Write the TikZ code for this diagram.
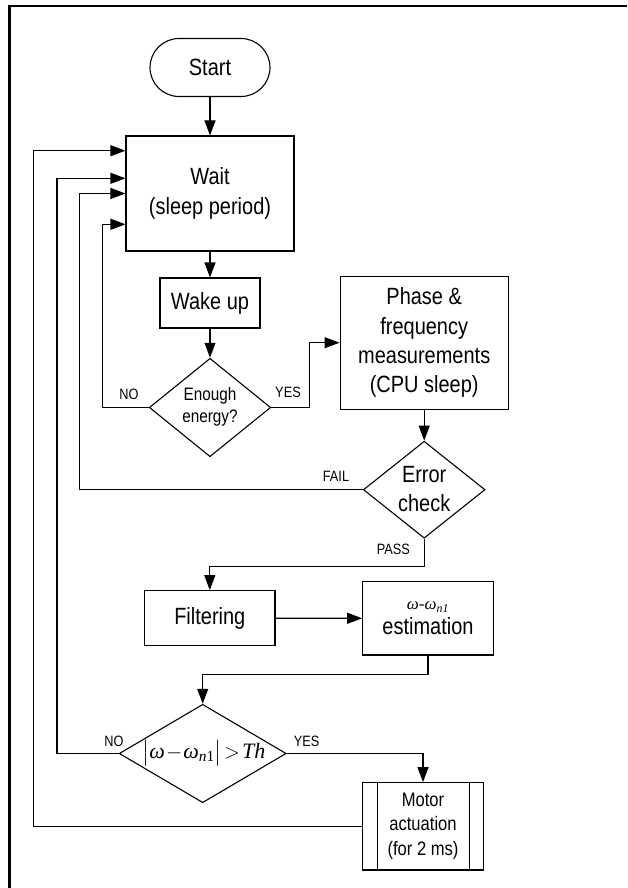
\documentclass[tikz,border=0pt]{standalone}
\usepackage{amsmath}
\usepackage{fontspec}
\setmainfont{Liberation Sans}[FakeStretch=0.85]
\newfontfamily\tms{Liberation Serif}
\usetikzlibrary{arrows.meta,shapes.geometric}
\begin{document}
\begin{tikzpicture}[x=1pt,y=-1pt,
  ln/.style={line width=1.1pt},
  arr/.style={line width=1.1pt,-{Triangle[length=15pt,width=11pt]}},
  box/.style={draw,line width=1.1pt,inner sep=0pt,align=center,font=\fontsize{23.5}{29.3}\selectfont},
  dia/.style={draw,line width=1.1pt,shape=diamond,inner sep=0pt},
  dtext/.style={inner sep=0pt,align=center},
  lbl/.style={inner sep=0pt,font=\fontsize{15}{17}\selectfont}]
\useasboundingbox (0,0) rectangle (627,888);
% frame
\coordinate (fa) at (627,6);
\coordinate (fb) at (9.5,6);
\coordinate (fc) at (9.5,888);
\draw[line width=2.5pt] (fa) -- (fb) -- (fc);
% nodes
\node[box,rounded corners=29pt,minimum width=120pt,minimum height=58pt] (start) at (210,67.5) {Start};
\node[box,minimum width=168pt,minimum height=115pt] (wait) at (210,193.5) {Wait\\(sleep period)};
\node[box,minimum width=100pt,minimum height=50pt] (wake) at (210,303) {Wake up};
\node[dia,minimum width=121.4pt,minimum height=98.4pt] (d1) at (210,407.5) {};
\node[dtext,font=\fontsize{18}{21.7}\selectfont] (d1t) at (210,406.5) {Enough\\energy?};
\node[box,minimum width=168.3pt,minimum height=133.3pt] (phase) at (424.2,342.7) {Phase \&\\frequency\\measurements\\(CPU sleep)};
\node[dia,minimum width=121.7pt,minimum height=97pt] (err) at (424.2,489.7) {};
\node[dtext,font=\fontsize{23.5}{28.4}\selectfont] (errt) at (424.2,489) {Error\\check};
\node[box,minimum width=130.3pt,minimum height=55pt] (filt) at (209.8,618.2) {Filtering};
\node[box,minimum width=130.6pt,minimum height=73.3pt,font=\fontsize{23.5}{25}\selectfont] (est) at (428,618.3)
  {{\fontsize{17}{20}\selectfont\tms\itshape ω-ω\textsubscript{n1}}\\estimation};
\node[dia,minimum width=167pt,minimum height=98.4pt] (d2) at (202.7,753.5) {};
\node[dtext,font=\fontsize{22}{26}\selectfont] (d2t) at (204,753) {$\bigl|\text{\tms\itshape ω}\!-\!\text{\tms\itshape ω}_{\text{\tms\itshape n}\text{\tms 1}}\bigr|\!>\!\text{\tms\itshape Th}$};
\node[box,minimum width=120.6pt,minimum height=87.3pt,font=\fontsize{19.5}{24.5}\selectfont] (motor) at (423,826.3) {Motor\\actuation\\(for 2 ms)};
\draw[ln] ([xshift=15pt]motor.north west) -- ([xshift=15pt]motor.south west);
\draw[ln] ([xshift=-14.3pt]motor.north east) -- ([xshift=-14.3pt]motor.south east);
% labels
\node[lbl] (l1) at (129,394) {NO};
\node[lbl] (l2) at (288,392) {YES};
\node[lbl] (l3) at (336,476.7) {FAIL};
\node[lbl] (l4) at (393.3,549.3) {PASS};
\node[lbl] (l5) at (114,741.7) {NO};
\node[lbl] (l6) at (306.7,741.7) {YES};
% connectors
\draw[arr] (start.south) -- (wait.north);
\draw[arr] (wait.south) -- (wake.north);
\draw[arr] (wake.south) -- (d1.north);
\draw[arr] (d1.east) -- ++(38.6,0) |- (phase.west);
\draw[arr] (d1.west) -- ++(-46.6,0) |- ([yshift=-30.8pt]wait.west);
\draw[arr] (phase.south) -- (err.north);
\draw[arr] (err.west) -- ++(-283.3,0) |- (wait.west);
\draw[arr] (err.south) -- ++(0,27.7) -| (filt.north);
\draw[arr] (filt.east) -- (est.west);
\draw[arr] (est.south) -- ++(0,19.3) -| (d2.north);
\draw[arr] (d2.east) -| (motor.north);
\draw[arr] (d2.west) -- ++(-61.7,0) |- ([yshift=15.2pt]wait.west);
\draw[arr] (motor.west) -- ++(-328.7,0) |- ([yshift=42.8pt]wait.west);
\end{tikzpicture}
\end{document}
